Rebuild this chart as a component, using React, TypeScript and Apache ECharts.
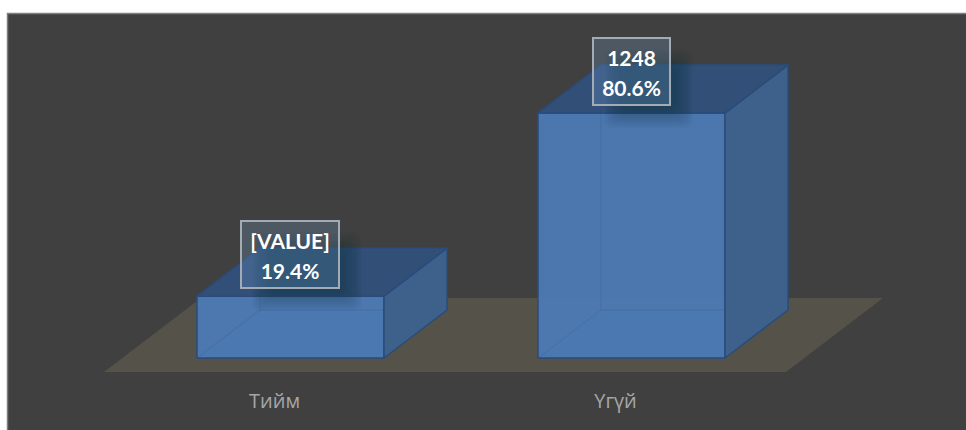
import React, { useEffect, useRef } from "react";
import * as echarts from "echarts";

const categories = ["Тийм", "Үгүй"];
const values = [300, 1248];
const valueLabels = ["[VALUE]", "1248"];
const percentLabels = ["19.4%", "80.6%"];

const LABEL_FONT = 'bold 21px Lato, "Noto Sans", sans-serif';
const SHIFT_X = 16;
const SHIFT_Y = 14;
const DEPTH_X = 63;
const DEPTH_Y = 48;
const FLOOR_X = 97;
const FLOOR_Y = 74;
const EDGE = "#2a4c7c";

function measure(text: string) {
  const ctx = document.createElement("canvas").getContext("2d")!;
  ctx.font = LABEL_FONT;
  return ctx.measureText(text).width;
}

function poly(points: number[][], fill: string, stroke: string, lineWidth = 1.5, z2 = 1) {
  return {
    type: "polygon",
    shape: { points },
    style: { fill, stroke, lineWidth, lineJoin: "round" },
    z2,
  };
}

function renderBar(params: any, api: any) {
  const i = api.value(0);
  const v = api.value(1);
  const base = api.coord([i, -20]);
  const top = api.coord([i, v]);
  const half = (api.size([1, 0])[0] * 187) / 341 / 2;
  const cx = base[0] + SHIFT_X;
  const l = cx - half;
  const r = cx + half;
  const b = base[1] - SHIFT_Y;
  const t = top[1] - SHIFT_Y;
  const hidden = "rgba(42,76,124,0.12)";
  const line = (x1: number, y1: number, x2: number, y2: number) => ({
    type: "line",
    shape: { x1, y1, x2, y2 },
    style: { stroke: hidden, lineWidth: 1.5 },
    z2: 4,
  });
  const boxW = Math.round(Math.max(measure(valueLabels[i]), measure(percentLabels[i])) + 18);
  const boxH = 67;
  const boxX = Math.round(cx - 0.5 - boxW / 2);
  const boxY = Math.round(t - 8 - boxH);
  const shadow = Array.from({ length: 12 }, (_, k) => ({
    type: "rect",
    shape: {
      x: boxX + 11 + k * 1.7,
      y: boxY + 11 + k * 1.7,
      width: boxW + 12 - k * 3.4,
      height: boxH + 12 - k * 3.4,
      r: 8,
    },
    style: { fill: "rgba(15,20,30,0.028)" },
    z2: 4,
  }));
  return {
    type: "group",
    children: [
      poly(
        [[l, b], [l + DEPTH_X, b - DEPTH_Y], [r + DEPTH_X, b - DEPTH_Y], [r, b]],
        "rgba(52,84,128,0.55)",
        "none",
      ),
      poly([[l, b], [r, b], [r, t], [l, t]], "rgba(76,122,180,0.95)", EDGE, 1.5, 3),
      poly(
        [[r, b], [r + DEPTH_X, b - DEPTH_Y], [r + DEPTH_X, t - DEPTH_Y], [r, t]],
        "#3e618b",
        EDGE,
        1.5,
        3,
      ),
      poly(
        [[l, t], [l + DEPTH_X, t - DEPTH_Y], [r + DEPTH_X, t - DEPTH_Y], [r, t]],
        "#324f77",
        EDGE,
        1.5,
        3,
      ),
      line(l, b, l + DEPTH_X, b - DEPTH_Y),
      line(l + DEPTH_X, b - DEPTH_Y, l + DEPTH_X, t - DEPTH_Y),
      line(l + DEPTH_X, b - DEPTH_Y, r, b - DEPTH_Y),
      ...shadow,
      {
        type: "rect",
        shape: { x: boxX, y: boxY, width: boxW, height: boxH },
        style: {
          fill: "rgba(125,175,225,0.22)",
          stroke: "#a3abb4",
          lineWidth: 2,
        },
        z2: 5,
      },
      {
        type: "text",
        style: {
          x: boxX + boxW / 2,
          y: boxY + boxH / 2 + 1,
          text: valueLabels[i] + "\n" + percentLabels[i],
          font: LABEL_FONT,
          lineHeight: 30,
          fill: "#ffffff",
          align: "center",
          verticalAlign: "middle",
        },
        z2: 6,
      },
    ],
  };
}

function renderFloor(params: any) {
  const { x, y, width, height } = params.coordSys;
  const f = y + height;
  return {
    type: "polygon",
    shape: {
      points: [
        [x, f],
        [x + width, f],
        [x + width + FLOOR_X, f - FLOOR_Y],
        [x + FLOOR_X, f - FLOOR_Y],
      ],
    },
    style: { fill: "#55524a" },
  };
}

export default function App() {
  const ref = useRef<HTMLDivElement>(null);
  useEffect(() => {
    document.body.style.margin = "0";
    const chart = echarts.init(ref.current!, undefined, { renderer: "svg" });
    chart.setOption({
      animation: false,
      backgroundColor: "#ffffff",
      graphic: [
        {
          type: "rect",
          z: -1,
          shape: { x: 7.5, y: 13.5, width: 965, height: 425 },
          style: { fill: "#404040", stroke: "#7f7f7f", lineWidth: 1.5 },
          silent: true,
        },
      ],
      grid: { left: 104, width: 682, top: 117, height: 255 },
      xAxis: {
        type: "category",
        data: categories,
        axisLine: { show: false },
        axisTick: { show: false },
        axisLabel: {
          color: "#a6a6a6",
          fontSize: 20,
          fontFamily: '"Open Sans", sans-serif',
          margin: 18,
        },
      },
      yAxis: { type: "value", min: -20, max: 1300, show: false },
      series: [
        {
          type: "custom",
          z: 1,
          silent: true,
          clip: false,
          renderItem: renderFloor,
          data: [[0, 0]],
          encode: { x: 0, y: 1 },
        },
        {
          type: "custom",
          z: 2,
          silent: true,
          clip: false,
          renderItem: renderBar,
          data: values.map((v, i) => [i, v]),
          encode: { x: 0, y: 1 },
        },
      ],
    });
    return () => chart.dispose();
  }, []);
  return <div ref={ref} style={{ width: 966, height: 430 }} />;
}
